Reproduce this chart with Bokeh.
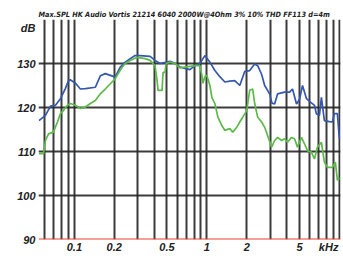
from bokeh.plotting import figure
from bokeh.models import Range1d, FixedTicker, Span
from bokeh.embed import file_html
from bokeh.resources import INLINE

title_text = "Max.SPL  HK Audio Vortis 21214 6040 2000W@4Ohm 3% 10% THD FF113 d=4m"

blue_f = [0.054, 0.0605, 0.066, 0.072, 0.0785, 0.0855, 0.090, 0.093, 0.102, 0.111, 0.121, 0.144,
          0.157, 0.171, 0.187, 0.203, 0.222, 0.242, 0.264, 0.287, 0.313, 0.373, 0.406, 0.443,
          0.527, 0.575, 0.627, 0.683, 0.745, 0.812, 0.886, 0.966, 1.054, 1.149, 1.253, 1.366,
          1.49, 1.624, 1.771, 1.931, 2.105, 2.296, 2.418, 2.592, 2.73, 2.977, 3.1, 3.247, 3.42,
          3.86, 4.21, 4.43, 4.75, 5.0, 5.27, 5.65, 5.95, 6.49, 6.7, 7.07, 7.32, 7.71, 8.41,
          8.86, 9.17, 9.66, 10.0]
blue_db = [117.0, 118.2, 120.3, 120.5, 122.0, 124.3, 126.0, 126.3, 125.5, 124.2, 124.3, 124.6,
           127.2, 127.7, 127.3, 126.9, 129.2, 130.3, 131.1, 131.8, 131.8, 131.6, 130.7, 130.0,
           130.5, 130.0, 129.2, 128.9, 128.6, 129.5, 130.0, 131.8, 130.3, 128.4, 127.0, 125.8,
           126.0, 126.1, 125.0, 128.2, 128.4, 129.9, 129.5, 127.5, 125.0, 123.1, 121.0, 120.8,
           123.1, 123.5, 123.5, 124.2, 120.8, 121.8, 125.0, 122.0, 121.4, 120.5, 118.6, 118.2,
           122.3, 117.0, 116.8, 116.7, 118.6, 118.6, 113.0]

green_f = [0.054, 0.0585, 0.0605, 0.0638, 0.0695, 0.0745, 0.0785, 0.0826, 0.0886, 0.0933,
           0.1017, 0.111, 0.121, 0.132, 0.144, 0.157, 0.171, 0.187, 0.203, 0.214, 0.230, 0.242,
           0.264, 0.298, 0.342, 0.373, 0.406, 0.421, 0.428, 0.459, 0.467, 0.483, 0.492, 0.527,
           0.575, 0.627, 0.812, 0.886, 0.917, 0.933, 0.966, 1.0, 1.054, 1.091, 1.149, 1.211,
           1.297, 1.366, 1.49, 1.568, 1.681, 1.771, 1.866, 1.999, 2.105, 2.218, 2.296, 2.418,
           2.592, 2.73, 2.876, 3.082, 3.247, 3.42, 3.66, 3.86, 4.06, 4.36, 4.59, 4.83, 5.18,
           5.46, 5.75, 6.16, 6.49, 6.83, 7.32, 7.71, 8.13, 8.86, 9.33, 9.66, 10.0]
green_db = [109.5, 109.5, 112.5, 114.0, 114.4, 116.7, 118.6, 119.3, 120.5, 120.9,
            120.5, 119.8, 120.1, 120.9, 121.6, 123.1, 124.2, 125.4, 126.5, 127.7, 129.2, 130.0,
            130.7, 131.4, 131.1, 130.7, 129.5, 126.1, 123.9, 123.9, 128.0, 128.0, 130.0, 130.3,
            130.0, 129.0, 129.5, 129.5, 127.3, 125.5, 127.0, 127.3, 125.0, 122.3, 120.9, 117.8,
            115.9, 114.8, 115.2, 114.4, 115.5, 116.7, 117.8, 119.3, 123.9, 124.2, 120.9, 117.8,
            116.7, 115.5, 113.6, 111.0, 112.5, 113.2, 112.5, 112.9, 112.1, 113.2, 112.9, 111.0, 113.2,
            111.7, 110.2, 109.8, 108.3, 111.0, 112.1, 107.6, 106.4, 106.4, 107.6, 103.5, 104.0]

x_start, x_end = 0.0536, 10.2
y_start, y_end = 90, 140

grid_freqs = [0.0536, 0.06, 0.07, 0.08, 0.09, 0.1, 0.2, 0.3, 0.4, 0.5, 0.6, 0.7, 0.8, 0.9,
              1, 2, 3, 4, 5, 6, 7, 8, 9, 10]
grid_db = [100, 110, 120, 130]

x_ticks = [0.1, 0.2, 0.5, 1, 2, 5, 8.3]
x_labels = ["0.1", "0.2", "0.5", "1", "2", "5", "kHz"]
y_ticks = [90, 100, 110, 120, 130, 138]
y_labels = ["90", "100", "110", "120", "130", "dB"]

p = figure(width=343, height=257, x_axis_type="log",
           x_range=Range1d(x_start, x_end), y_range=Range1d(y_start, y_end),
           output_backend="svg", toolbar_location=None, title=title_text,
           min_border_left=38, min_border_right=3, min_border_top=19, min_border_bottom=18)
p.outline_line_color = None
p.background_fill_color = "white"
p.border_fill_color = "white"

p.title.text_font = "DejaVu Sans Condensed"
p.title.text_font_style = "bold italic"
p.title.text_font_size = "7.3px"
p.title.text_color = "#222222"
p.title.align = "left"
p.title.standoff = 2
p.title.offset = 0
p.title.vertical_align = "bottom"

p.xgrid.ticker = FixedTicker(ticks=grid_freqs)
p.ygrid.ticker = FixedTicker(ticks=grid_db)
for g in (p.xgrid, p.ygrid):
    g.grid_line_color = "#262626"
    g.grid_line_width = 2
    g.grid_line_alpha = 0.9

p.add_layout(Span(location=y_start, dimension="width", line_color="#ee4433", line_width=2))

p.line(blue_f, blue_db, line_color="#3557b0", line_width=1.7)
p.line(green_f, green_db, line_color="#5cbb48", line_width=1.7)

font = "Liberation Sans"
p.xaxis.ticker = FixedTicker(ticks=x_ticks)
p.xaxis.major_label_overrides = {t: l for t, l in zip(x_ticks, x_labels)}
p.yaxis.ticker = FixedTicker(ticks=y_ticks)
p.yaxis.major_label_overrides = {t: l for t, l in zip(y_ticks, y_labels)}
for ax in (p.xaxis, p.yaxis):
    ax.axis_line_color = None
    ax.major_tick_line_color = None
    ax.minor_tick_line_color = None
    ax.major_tick_out = 0
    ax.major_tick_in = 0
    ax.major_label_text_font = font
    ax.major_label_text_font_style = "bold italic"
    ax.major_label_text_font_size = "11px"
    ax.major_label_text_color = "#222222"
p.xaxis.major_label_standoff = 1
p.yaxis.major_label_standoff = 3

open("out.html", "w").write(file_html(p, INLINE))
